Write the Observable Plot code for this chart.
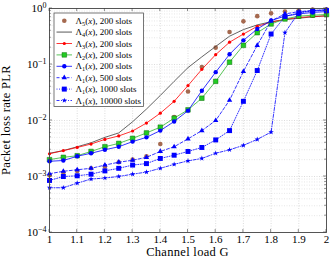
<!DOCTYPE html>
<html><head><meta charset="utf-8">
<script src="https://cdn.jsdelivr.net/npm/d3@7"></script>
<script src="https://cdn.jsdelivr.net/npm/@observablehq/plot@0.6"></script>
<style>
body{margin:0;background:#fff}
svg{font-family:"Liberation Serif","DejaVu Serif",serif}
</style>
</head><body><div id="c"></div>
<script>
const G = [1.00,1.05,1.10,1.15,1.20,1.25,1.30,1.35,1.40,1.45,1.50,1.55,1.60,1.65,1.70,1.75,1.80,1.85,1.90,1.95,2.00];
const lambda5      = [1.05e-3,1.17e-3,1.26e-3,1.4e-3,1.5e-3,1.8e-3,2.0e-3,2.3e-3,3.8e-3,0.0115,0.033,0.09,0.2,0.38,0.59,0.73,0.82,0.88,0.93,0.96,0.97];
const lambda4      = [2.6e-3,2.9e-3,3.4e-3,4.0e-3,5.0e-3,6.0e-3,9.5e-3,0.016,0.028,0.05,0.088,0.137,0.21,0.32,0.42,0.51,0.58,0.63,0.67,0.71,0.74];
const lambda3      = [2.55e-3,2.9e-3,3.3e-3,3.8e-3,4.6e-3,5.3e-3,6.5e-3,9e-3,0.0135,0.022,0.042,0.082,0.15,0.25,0.35,0.48,0.57,0.64,0.69,0.72,0.74];
const lambda2      = [2.0e-3,2.2e-3,2.35e-3,2.8e-3,3.4e-3,3.9e-3,4.8e-3,6.0e-3,7.6e-3,0.011,0.0155,0.025,0.05,0.11,0.22,0.37,0.53,0.65,0.73,0.76,0.78];
const lambda1_200  = [1.87e-3,1.93e-3,2.3e-3,2.6e-3,3.0e-3,3.4e-3,4.2e-3,5.0e-3,6.6e-3,9.6e-3,0.015,0.034,0.073,0.152,0.27,0.43,0.61,0.73,0.8,0.85,0.88];
const lambda1_500  = [1.12e-3,1.24e-3,1.32e-3,1.4e-3,1.6e-3,1.8e-3,1.95e-3,2.2e-3,2.8e-3,3.4e-3,4.7e-3,6.6e-3,0.01,0.023,0.075,0.22,0.6,0.8,0.88,0.92,0.94];
const lambda1_1000 = [8.5e-4,1.0e-3,1.03e-3,1.1e-3,1.26e-3,1.4e-3,1.6e-3,1.7e-3,2.1e-3,2.4e-3,2.8e-3,3.3e-3,4.5e-3,6.6e-3,0.022,0.078,0.35,0.72,0.84,0.9,0.92];
const lambda1_10000= [6.3e-4,6.3e-4,7.6e-4,9e-4,9.4e-4,1.0e-3,1.1e-3,1.2e-3,1.4e-3,1.65e-3,1.9e-3,2.1e-3,2.6e-3,3.0e-3,3.6e-3,4.6e-3,6.2e-3,0.37,0.85,0.92,0.95];

const legendSub = ["5","4","3","2","1","1","1","1"];
const legendTail = ["200 slots","200 slots","200 slots","200 slots","200 slots","500 slots","1000 slots","10000 slots"];
const xTicks = [1,1.1,1.2,1.3,1.4,1.5,1.6,1.7,1.8,1.9,2];
const yTicks = [1e-4,1e-3,1e-2,1e-1,1];

const series = [
 {vals: lambda5, stroke:"#a5694f", line:false, symbol:"circle", r:2.3, fill:"#a5694f", mstroke:"none"},
 {vals: lambda4, stroke:"#3c3c3c", line:true, symbol:null, legendStroke:"#888", lw:1.4},
 {vals: lambda3, stroke:"#ff0000", line:true, symbol:"circle", r:1.6, fill:"#ff0000", mstroke:"none"},
 {vals: lambda2, stroke:"#2fb52f", line:true, symbol:"square", r:2.6, fill:"#22cc22", mstroke:"#0e6e0e"},
 {vals: lambda1_200, stroke:"#0000ff", line:true, symbol:"circle", r:2.2, fill:"#0000ff", mstroke:"none"},
 {vals: lambda1_500, stroke:"#0000ff", line:true, dash:"3,2", symbol:"triangle", r:2.0, fill:"#0000ff", mstroke:"none"},
 {vals: lambda1_1000, stroke:"#0000ff", line:true, dash:"1,1.5", symbol:"square", r:2.8, fill:"#0000ff", mstroke:"none"},
 {vals: lambda1_10000, stroke:"#0000ff", line:true, dash:"3,1.5,1,1.5", symbol:"star", r:1.7, fill:"#0000ff", mstroke:"none"},
];

const yMinor = [];
for (let e = -4; e < 0; e++) for (let k = 2; k <= 9; k++) yMinor.push(k * Math.pow(10, e));

const marks = [
  Plot.ruleX(xTicks.slice(1,-1), {stroke:"#c4c4c4", strokeWidth:0.6, strokeDasharray:"1,1.5"}),
  Plot.ruleY(yMinor, {stroke:"#cfcfcf", strokeWidth:0.5, strokeDasharray:"1,1.5"}),
  Plot.ruleY(yTicks.slice(1,-1), {stroke:"#c4c4c4", strokeWidth:0.6, strokeDasharray:"1,1.5"}),
];
for (const s of series) {
  const rows = G.map((g,i)=>({G:g, p:s.vals[i]}));
  if (s.line) marks.push(Plot.line(rows, {x:"G", y:"p", stroke:s.stroke, strokeWidth:0.8, strokeDasharray:s.dash||null}));
  if (s.symbol) marks.push(Plot.dot(rows, {x:"G", y:"p", symbol:s.symbol, r:s.r, fill:s.fill, stroke:s.mstroke, strokeWidth:0.5}));
}
marks.push(Plot.frame({stroke:"#444", strokeWidth:0.9}));
marks.push(Plot.axisX({ticks:xTicks, tickSize:0, tickPadding:3, fontSize:11, label:null,
  tickFormat: d => (d===1||d===2) ? String(d) : d.toFixed(1)}));
marks.push(Plot.axisY({ticks:yTicks, tickSize:0, tickPadding:3, fontSize:11, label:null,
  tickFormat: d => "10^" + Math.round(Math.log10(d))}));

const chart = Plot.plot({
  width:332, height:263,
  marginLeft:49, marginRight:6, marginTop:8, marginBottom:31,
  style:{fontFamily:'"Liberation Serif", serif', fontSize:"11px", color:"#000", background:"#fff"},
  x:{domain:[1,2]},
  y:{type:"log", domain:[1e-4,1]},
  marks
});
document.getElementById("c").appendChild(chart);

const svg = d3.select(chart);
const sx = chart.scale("x"), sy = chart.scale("y");
svg.selectAll('g[aria-label="y-axis tick label"] text').each(function(){
  const t = d3.select(this);
  const txt = t.text();
  const exp = txt.split("^")[1];
  t.text("10");
  t.append("tspan").attr("dy","-0.45em").attr("font-size","8px").text(exp.replace("-","\u2212"));
});
const tk = svg.append("g").attr("stroke","#444").attr("stroke-width",0.6);
const x0 = sx.apply(1), x1 = sx.apply(2), y0 = sy.apply(1e-4), y1 = sy.apply(1);
for (const v of xTicks) { const x = sx.apply(v);
  tk.append("line").attr("x1",x).attr("x2",x).attr("y1",y0).attr("y2",y0-3);
  tk.append("line").attr("x1",x).attr("x2",x).attr("y1",y1).attr("y2",y1+3); }
for (const v of yTicks) { const y = sy.apply(v);
  tk.append("line").attr("x1",x0).attr("x2",x0+3).attr("y1",y).attr("y2",y);
  tk.append("line").attr("x1",x1).attr("x2",x1-3).attr("y1",y).attr("y2",y); }
for (const v of yMinor) { const y = sy.apply(v);
  tk.append("line").attr("x1",x0).attr("x2",x0+1.8).attr("y1",y).attr("y2",y);
  tk.append("line").attr("x1",x1).attr("x2",x1-1.8).attr("y1",y).attr("y2",y); }

svg.append("text").attr("x",(x0+x1)/2).attr("y",256).attr("text-anchor","middle")
  .attr("font-size","12.5px").attr("letter-spacing","0.3px").text("Channel load G");
svg.append("text").attr("transform","translate(10,120) rotate(-90)").attr("text-anchor","middle")
  .attr("font-size","12.5px").attr("letter-spacing","0.3px").text("Packet loss rate PLR");

const lg = svg.append("g").attr("text-anchor","start");
lg.append("rect").attr("x",54).attr("y",13).attr("width",89.5).attr("height",93.5)
  .attr("fill","#fff").attr("stroke","#555").attr("stroke-width",0.8);
series.forEach((s,i)=>{
  const y = 20.7 + i*11.4;
  if (s.line) lg.append("line").attr("x1",56.5).attr("x2",72).attr("y1",y).attr("y2",y)
    .attr("stroke", s.legendStroke||s.stroke).attr("stroke-width", s.lw||0.8).attr("stroke-dasharray", s.dash||null);
  if (s.symbol) {
    const sym = {circle:d3.symbolCircle, square:d3.symbolSquare, triangle:d3.symbolTriangle, star:d3.symbolStar}[s.symbol];
    lg.append("path").attr("d", d3.symbol(sym, Math.PI*s.r*s.r)()).attr("transform",`translate(64.3,${y})`)
      .attr("fill", s.fill).attr("stroke", s.mstroke).attr("stroke-width",0.5);
  }
  const t = lg.append("text").attr("x",75.5).attr("y",y+3).attr("font-size","9px").attr("text-anchor","start");
  t.append("tspan").text("\u039B");
  t.append("tspan").attr("font-size","6.3px").attr("dy","2").text(legendSub[i]);
  t.append("tspan").attr("dy","-2").text("(");
  t.append("tspan").attr("font-style","italic").text("x");
  t.append("tspan").text("), " + legendTail[i]);
});
</script>
</body></html>
